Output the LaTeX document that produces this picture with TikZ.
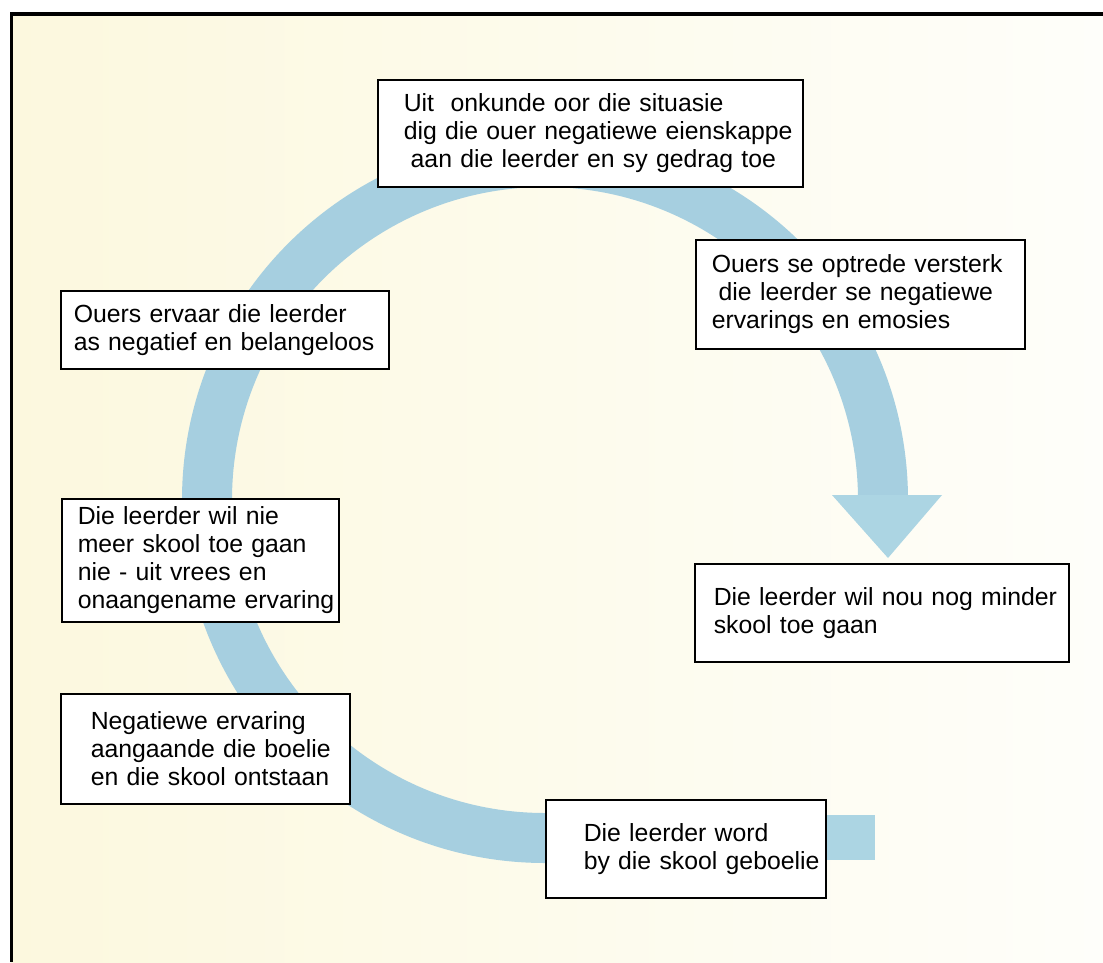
\documentclass[tikz,border=0pt]{standalone}
\usepackage{fontspec}
\setmainfont{Liberation Sans}
\definecolor{ringblue}{RGB}{166,207,224}
\definecolor{tipblue}{RGB}{172,213,227}
\definecolor{paleyellow}{RGB}{252,248,222}
\definecolor{paper}{RGB}{254,254,250}
\hfuzz=200pt
\hyphenpenalty=10000
\exhyphenpenalty=10000
\begin{document}
\begin{tikzpicture}[x=1pt, y=-1pt,
                    stepbox/.style = {draw, line width=1.5pt, fill=white, anchor=north west, align=left, inner ysep=0pt, font=\fontsize{24.8}{28}\selectfont}]
                    \useasboundingbox (0,0) rectangle (1103,962);
                    \shade[left color=paleyellow, right color=paper] (11,13) rectangle (1103,962);
                    \draw[line width=3.6pt] (11.5,962) -- (11.5,13.7) -- (1103,13.7);

                    \coordinate (hub) at (545,500);
                    \draw[ringblue, line width=50pt] (545,838) arc[start angle=90, end angle=360, radius=338];
                    \fill[tipblue] (545,815) rectangle (875,860);
                    \fill[tipblue] (832,495) -- (942,495) -- (888,558) -- cycle;

                    \node[stepbox, inner xsep=26pt, text width=373pt, minimum height=107pt] (onkunde) at (377,79) {Uit\ \ onkunde oor die situasie\\dig~die~ouer~negatiewe~eienskappe\\\hspace*{0.28em}aan die leerder en sy gedrag toe};
                    \node[stepbox, inner xsep=16pt, text width=297pt, minimum height=109pt] (versterk) at (695,239) {Ouers se optrede versterk\\\hspace*{0.28em}die leerder se negatiewe\\ervarings en emosies};
                    \node[stepbox, inner xsep=13pt, text width=302pt, minimum height=78pt] (ervaar) at (60,290) {Ouers ervaar die leerder\\as negatief en belangeloos};
                    \node[stepbox, inner xsep=16pt, text width=245pt, minimum height=123pt] (wilnie) at (61,498) {Die leerder wil nie\\meer skool toe gaan\\nie - uit vrees en\\onaangename~ervaring};
                    \node[stepbox, inner xsep=19pt, text width=336pt, minimum height=98pt] (minder) at (694,563) {Die~leerder~wil~nou~nog~minder\\skool toe gaan};
                    \node[stepbox, inner xsep=38pt, text width=204pt, minimum height=98pt] (geboelie) at (545,799) {Die leerder word\\by~die~skool~geboelie};
                    \node[stepbox, inner xsep=30pt, text width=229pt, minimum height=110pt] (boelie) at (60,693) {Negatiewe ervaring\\aangaande~die~boelie\\en~die~skool~ontstaan};
                \end{tikzpicture}
\end{document}
